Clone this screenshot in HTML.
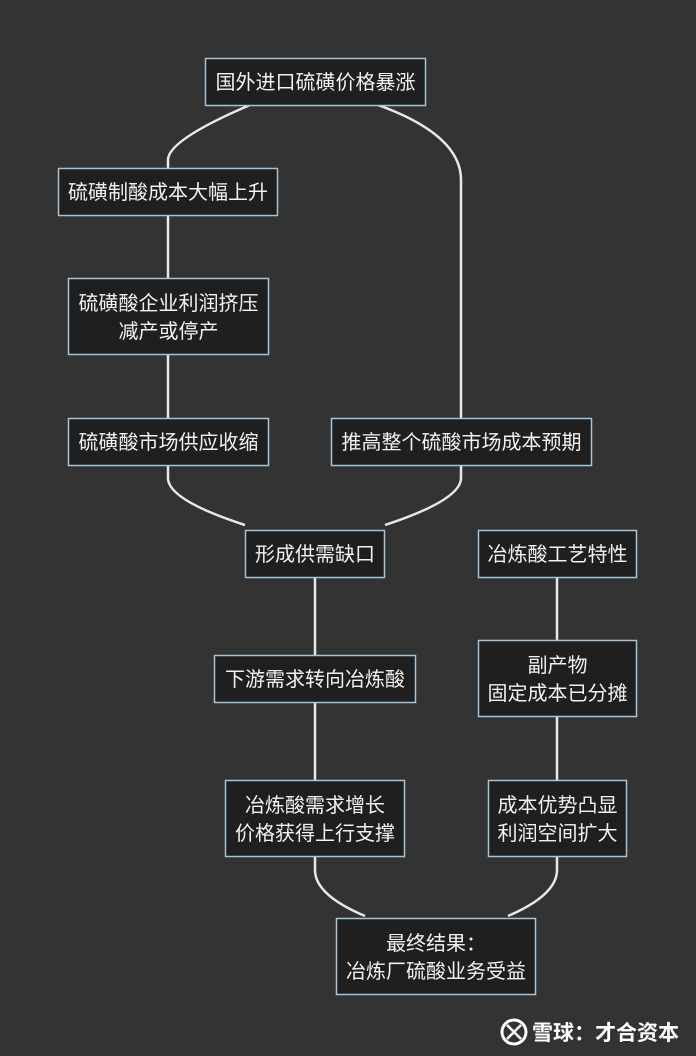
<!DOCTYPE html>
<html><head><meta charset="utf-8"><style>
html,body{margin:0;padding:0;background:#333333;}
svg{display:block}
text{font-family:"Liberation Sans","Noto Sans CJK SC",sans-serif;font-size:20px;fill:#f2f2f2;text-anchor:middle;}
rect{fill:#1f1f1f;stroke:#a9c3d6;stroke-width:1.5}
path{fill:none;stroke:#e8e8e8;stroke-width:2.5}
</style></head><body>
<svg width="696" height="1056" viewBox="0 0 696 1056">
<rect x="0" y="0" width="696" height="1056" style="fill:#333333;stroke:none"/>
<path d="M250 105 Q168 140 168 160 L168 168"/>
<path d="M378 105 Q461 135 461 180 L461 418"/>
<path d="M168 216 L168 278"/>
<path d="M168 355 L168 418"/>
<path d="M168 466 L168 478 Q168 500 245 525"/>
<path d="M461 466 L461 478 Q461 500 385 525"/>
<path d="M315 577 L315 655"/>
<path d="M315 702 L315 780"/>
<path d="M557 577 L557 640"/>
<path d="M557 716 L557 780"/>
<path d="M315 856 L315 870 Q315 895 365 916"/>
<path d="M557 856 L557 870 Q557 895 508 916"/>
<rect x="205.5" y="58.5" width="220" height="47"/><text x="315.5" y="89">国外进口硫磺价格暴涨</text>
<rect x="58.5" y="168.5" width="219" height="47"/><text x="168" y="199">硫磺制酸成本大幅上升</text>
<rect x="68.5" y="278.5" width="200" height="76"/><text x="168.5" y="310">硫磺酸企业利润挤压</text><text x="168.5" y="338">减产或停产</text>
<rect x="68.5" y="418.5" width="200" height="47"/><text x="168.5" y="449">硫磺酸市场供应收缩</text>
<rect x="331.5" y="418.5" width="260" height="47"/><text x="461.5" y="449">推高整个硫酸市场成本预期</text>
<rect x="245.5" y="530.5" width="139" height="47"/><text x="315" y="561">形成供需缺口</text>
<rect x="478.5" y="530.5" width="158" height="47"/><text x="557.5" y="561">冶炼酸工艺特性</text>
<rect x="214.5" y="655.5" width="201" height="47"/><text x="315" y="686">下游需求转向冶炼酸</text>
<rect x="478.5" y="640.5" width="158" height="76"/><text x="557.5" y="672">副产物</text><text x="557.5" y="700">固定成本已分摊</text>
<rect x="225.5" y="780.5" width="179" height="76"/><text x="315" y="812">冶炼酸需求增长</text><text x="315" y="840">价格获得上行支撑</text>
<rect x="488.5" y="780.5" width="138" height="76"/><text x="557.5" y="812">成本优势凸显</text><text x="557.5" y="840">利润空间扩大</text>
<rect x="336.5" y="918.5" width="199" height="76"/><text x="436" y="950">最终结果：</text><text x="436" y="978">冶炼厂硫酸业务受益</text>
<circle cx="514" cy="1032" r="12" style="fill:none;stroke:#fff;stroke-width:3"/>
<path d="M507 1025 L521 1039 M521 1025 L507 1039" style="stroke:#fff;stroke-width:2.5"/>
<text x="532" y="1040" style="font-size:21px;font-weight:bold;fill:#fff;text-anchor:start">雪球：才合资本</text>
</svg>
</body></html>
